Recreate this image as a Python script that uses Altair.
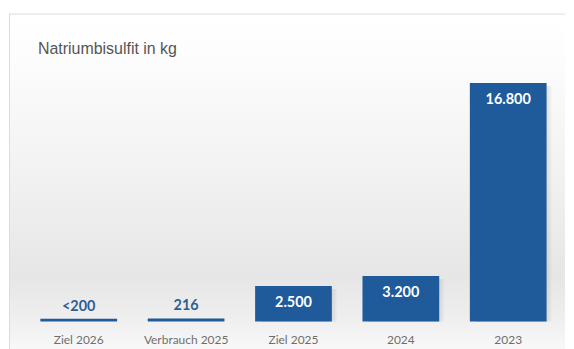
import altair as alt
import pandas as pd

categories = ["Ziel 2026", "Verbrauch 2025", "Ziel 2025", "2024", "2023"]
values = [200, 216, 2500, 3200, 16800]
labels = ["<200", "216", "2.500", "3.200", "16.800"]
inside = [False, False, True, True, True]

df = pd.DataFrame({"cat": categories, "value": values, "label": labels, "inside": inside})

W, H = 558, 337
BAR = "#1f5b9a"

x = alt.X(
    "cat:N",
    sort=categories,
    scale=alt.Scale(paddingInner=0.2854, paddingOuter=0.232, align=0.63),
    axis=None,
)
yscale = alt.Scale(domain=[-1966, 21693], nice=False, zero=False)
y = alt.Y("value:Q", scale=yscale, axis=None)

one = alt.Data(values=[{}])

bg = alt.Chart(one).mark_rect(
    fill=alt.LinearGradient(
        gradient="linear", x1=0, x2=0, y1=0, y2=1,
        stops=[
            alt.GradientStop(offset=0, color="#ffffff"),
            alt.GradientStop(offset=0.12, color="#fdfdfd"),
            alt.GradientStop(offset=0.5, color="#f1f1f1"),
            alt.GradientStop(offset=0.78, color="#e6e6e6"),
            alt.GradientStop(offset=0.9, color="#eeeeee"),
            alt.GradientStop(offset=1, color="#f8f8f8"),
        ],
    )
).encode(x=alt.value(0), x2=alt.value("width"), y=alt.value(0), y2=alt.value("height"))

frame_top = alt.Chart(one).mark_rule(color="#dcdcdc", strokeWidth=1).encode(
    x=alt.value(0), x2=alt.value("width"), y=alt.value(0.5)
)
frame_left = alt.Chart(one).mark_rule(color="#dcdcdc", strokeWidth=1).encode(
    x=alt.value(0.5), y=alt.value(0), y2=alt.value("height")
)

base = alt.Chart(df)

shadow = base.transform_filter("datum.inside").mark_bar(
    xOffset=6, yOffset=3,
    fill=alt.LinearGradient(
        gradient="linear", x1=0, x2=1, y1=0, y2=0,
        stops=[
            alt.GradientStop(offset=0, color="rgba(110,110,110,0.45)"),
            alt.GradientStop(offset=0.85, color="rgba(110,110,110,0.35)"),
            alt.GradientStop(offset=1, color="rgba(110,110,110,0)"),
        ],
    ),
).encode(x=x, y=y, y2=alt.datum(0))

bars = base.mark_bar(color=BAR).encode(x=x, y=y, y2=alt.datum(0))

txt_in = base.transform_filter("datum.inside").mark_text(
    dy=17, color="white", font="Lato", fontWeight="bold", fontSize=14.5, baseline="middle"
).encode(x=x, y=y, text="label:N")

txt_out = base.transform_filter("!datum.inside").mark_text(
    dy=-12, color="#2f5e92", font="Lato", fontWeight="bold", fontSize=14.5, baseline="middle"
).encode(x=x, y=y, text="label:N")

cat_labels = base.mark_text(
    font="Lato", fontSize=12, color="#6e6e6e", baseline="middle"
).encode(x=x, y=alt.value(H - 9), text="cat:N")

title = alt.Chart(one).mark_text(
    align="left", baseline="alphabetic", font="Liberation Sans", fontSize=16, color="#555555"
).encode(x=alt.value(29), y=alt.value(41), text=alt.value("Natriumbisulfit in kg"))

chart = alt.layer(bg, frame_top, frame_left, shadow, bars, txt_in, txt_out, cat_labels, title).properties(
    width=W, height=H, padding={"left": 0, "top": 4, "right": 0, "bottom": 0}
).configure_view(stroke=None)

chart.save("out.html", embed_options={"renderer": "svg", "actions": False})
